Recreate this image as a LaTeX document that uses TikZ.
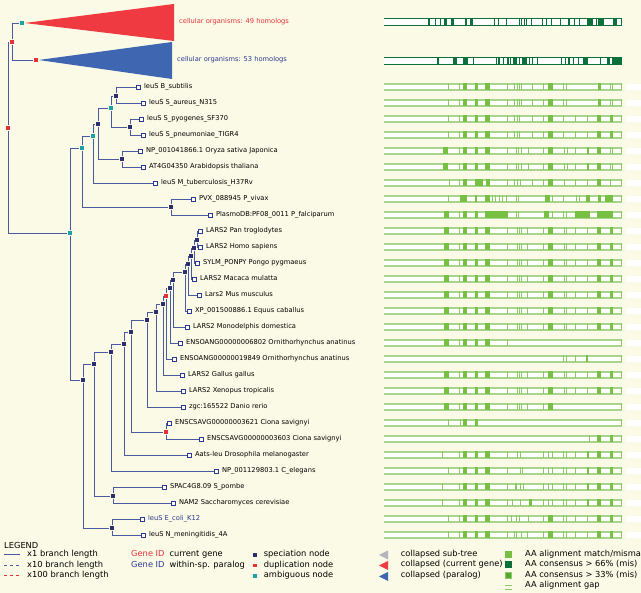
\documentclass[tikz,border=0pt]{standalone}
\usepackage{fontspec}
\setmainfont{DejaVu Sans}
\usetikzlibrary{positioning}
\definecolor{Paper}{HTML}{FAFAE6}
\definecolor{Branch}{HTML}{4A5AA0}
\definecolor{Navy}{HTML}{2B2F70}
\definecolor{DupRed}{HTML}{E8303A}
\definecolor{AmbTeal}{HTML}{1AA3A6}
\definecolor{ColRed}{HTML}{EE3A40}
\definecolor{ColBlue}{HTML}{3F66B0}
\definecolor{ParaBlue}{HTML}{2B3990}
\definecolor{SubGray}{HTML}{B5B5BD}
\definecolor{AAGreen}{HTML}{78C043}
\definecolor{AAThin}{HTML}{8EC86A}
\definecolor{AALine}{HTML}{A9D48E}
\definecolor{AADark}{HTML}{0B7039}
\definecolor{AAMid}{HTML}{56AA32}

\newcommand\treefont{\fontsize{6.7}{8}\selectfont}
\newcommand\legfont{\fontsize{8.3}{10}\selectfont}

% one alignment row: y, filled blocks, thin marks
\newcommand\alnrow[3]{%
  \edef\alnfills{#2}\edef\alnthins{#3}%
  \fill[white] (384,#1-3.5) rectangle (621.5,#1+3.5);
  \draw[AALine,line width=1.1pt] (384,#1-3) -- (621.5,#1-3) (384,#1+3) -- (621.5,#1+3);
  \foreach \fa/\fb in \alnfills {\fill[AAGreen] (\fa,#1-3.5) rectangle (\fb,#1+3.5);}
  \foreach \tx in \alnthins {\fill[AAThin] (\tx-0.5,#1-3.5) rectangle (\tx+0.5,#1+3.5);}
  \fill[AAThin] (620.8,#1-3.5) rectangle (621.8,#1+3.5);
  \fill[white] (626,#1-3) rectangle (641,#1+3);}
% consensus row of a collapsed sub-tree
\newcommand\colrow[3]{%
  \edef\alnfills{#2}\edef\alnthins{#3}%
  \fill[white] (384,#1-4) rectangle (621.5,#1+4);
  \draw[AADark,line width=1pt] (384,#1-3.5) -- (621.5,#1-3.5) (384,#1+3.5) -- (621.5,#1+3.5);
  \foreach \fa/\fb in \alnfills {\fill[AADark] (\fa,#1-4) rectangle (\fb,#1+4);}
  \foreach \tx in \alnthins {\fill[AADark] (\tx-0.4,#1-4) rectangle (\tx+0.4,#1+4);}
  \fill[AADark] (620.8,#1-4) rectangle (621.8,#1+4);}

\def\vertfills{444/449,463/467,474.5/478,485/490,548/553,596.5/601,610/613}
\def\vertthins{459.5,507,517,519.5,521.5,527.5,543.5,564,566,575,587}
\def\lowfills{463/467,474.5/478,485/490,586.5/589.3,596.7/600.7,610/612.7}

\begin{document}
\begin{tikzpicture}[x=1pt,y=-1pt,
    branch/.style={Branch,line width=0.8pt},
    spec/.style={rectangle,fill=Navy,minimum size=4.8pt,inner sep=0pt},
    dupl/.style={rectangle,fill=DupRed,minimum size=4.8pt,inner sep=0pt},
    ambi/.style={rectangle,fill=AmbTeal,minimum size=4.8pt,inner sep=0pt},
    leaf/.style={rectangle,draw=ParaBlue,fill=white,line width=0.7pt,minimum size=4pt,inner sep=0pt},
    lbl/.style={font=\treefont,inner sep=0pt,anchor=west,text height=4.9pt,text depth=1.4pt},
    legtxt/.style={font=\legfont,inner sep=0pt,anchor=west,text height=6pt,text depth=1.7pt}]
  \useasboundingbox (0,0) rectangle (641,593);
  \clip (0,0) rectangle (641,593);
  \fill[Paper] (0,0) rectangle (641,593);

  % collapsed sub-trees
  \node[dupl] (root) at (8,128) {};
  \node[dupl] (cdup) at (12,42) {};
  \node[ambi] (ctop) at (22,23) {};
  \node[dupl] (cpar) at (36,60) {};
  \fill[ColRed] (ctop.east) -- (174,4) -- (174,41) -- cycle;
  \fill[ColBlue] (cpar.east) -- (172,42) -- (172,79) -- cycle;
  \node[lbl,text=DupRed] (cg49) at (179,22) {cellular organisms: 49 homologs};
  \node[lbl,text=ParaBlue] (cg53) at (177,60) {cellular organisms: 53 homologs};

  % inner nodes
  \foreach \nm/\st/\nx/\ny in {
      amb0/ambi/70/233, amb1/ambi/82/148, amb2/ambi/93/136, sa/spec/98/124,
      amb3/ambi/111/108, sb/spec/116/96, sc/spec/130/127, sd/spec/122/159,
      se/spec/171/207, s16/spec/83/380, s17/spec/112/528, s15/spec/94/364,
      s18/spec/113/496, s14/spec/111/352, s13/spec/124/344, s12/spec/131/332,
      dcio/dupl/166/432, s11/spec/147/320, s10/spec/156/312, s9/spec/163/304,
      dmam/dupl/166/296, s7/spec/170/288, s6/spec/173/280, s5/spec/185/272,
      s4/spec/188/264, s3/spec/191/256, s2/spec/194/248, s1/spec/197/240}
    \node[\st] (\nm) at (\nx,\ny) {};

  % leaves
  \foreach \nm/\lx/\ly/\txt/\tc in {
      bsub/138/87/{leuS B\_subtilis}/black,
      saur/143/103/{leuS S\_aureus\_N315}/black,
      spyo/141/119/{leuS S\_pyogenes\_SF370}/black,
      spne/143/135/{leuS S\_pneumoniae\_TIGR4}/black,
      osat/140/151/{NP\_001041866.1 Oryza sativa Japonica}/black,
      atha/143/167/{AT4G04350 Arabidopsis thaliana}/black,
      mtub/155/183/{leuS M\_tuberculosis\_H37Rv}/black,
      pviv/193/199/{PVX\_088945 P\_vivax}/black,
      pfal/210/215/{PlasmoDB:PF08\_0011 P\_falciparum}/black,
      ptro/200/231/{LARS2 Pan troglodytes}/black,
      hsap/200/247/{LARS2 Homo sapiens}/black,
      ppyg/197/263/{SYLM\_PONPY Pongo pygmaeus}/black,
      mmul/194/279/{LARS2 Macaca mulatta}/black,
      mmus/199/295/{Lars2 Mus musculus}/black,
      ecab/189/311/{XP\_001500886.1 Equus caballus}/black,
      mdom/187/327/{LARS2 Monodelphis domestica}/black,
      oana/180/343/{ENSOANG00000006802 Ornithorhynchus anatinus}/black,
      oanb/174/359/{ENSOANG00000019849 Ornithorhynchus anatinus}/black,
      ggal/182/375/{LARS2 Gallus gallus}/black,
      xtro/183/391/{LARS2 Xenopus tropicalis}/black,
      drer/183/407/{zgc:165522 Danio rerio}/black,
      csaa/169/423/{ENSCSAVG00000003621 Ciona savignyi}/black,
      csab/201/439/{ENSCSAVG00000003603 Ciona savignyi}/black,
      dmel/189/455/{Aats-leu Drosophila melanogaster}/black,
      cele/216/471/{NP\_001129803.1 C\_elegans}/black,
      spom/164/487/{SPAC4G8.09 S\_pombe}/black,
      scer/173/503/{NAM2 Saccharomyces cerevisiae}/black,
      ecol/142/519/{leuS E\_coli\_K12}/ParaBlue,
      nmen/143/535/{leuS N\_meningitidis\_4A}/black}
    {\node[leaf] (\nm) at (\lx,\ly) {};
     \node[lbl,text=\tc,right=3.5pt of \nm] (\nm-t) {\txt};}

  % branches
  \foreach \p/\c in {root/cdup, root/amb0, cdup/ctop, cdup/cpar,
      amb0/amb1, amb0/s16, amb1/amb2, amb1/se, amb2/sa, amb2/mtub,
      sa/amb3, sa/sd, amb3/sb, amb3/sc, sb/bsub, sb/saur, sc/spyo, sc/spne,
      sd/osat, sd/atha, se/pviv, se/pfal,
      s16/s15, s16/s17, s17/ecol, s17/nmen, s15/s14, s15/s18, s18/spom, s18/scer,
      s14/s13, s14/cele, s13/s12, s13/dmel, s12/s11, s12/dcio, dcio/csaa, dcio/csab,
      s11/s10, s11/drer, s10/s9, s10/xtro, s9/dmam, s9/ggal, dmam/s7, dmam/oanb,
      s7/s6, s7/oana, s6/s5, s6/mdom, s5/s4, s5/ecab, s4/s3, s4/mmus,
      s3/s2, s3/mmul, s2/s1, s2/ppyg, s1/ptro, s1/hsap}
    \draw[branch] (\p) |- (\c);

  % alignments
  \colrow{22.5}{427.7/430.3,444.3/447.3,450.7/454,465/467.3,470/473.3,567.7/570,586.7/593.3,598.3/604,613.3/617.3}{435,440,494.3,498.3,506,519,521.7,524,526.7,531.7,542.3,546.7,551.7,560,574,579,596.7}
  \colrow{61}{436.7/439.3,452.7/457.3,462.7/467.7,498.3/500,506.7/509.3,513.3/516.7,523.3/526.7,568.3/570,583.3/588.3,606.7/610,612.3/621.5}{473.3,496.7,503.3,510.7,519,522.3,529,532,537,561.7,565,573.3,578,600}
  \alnrow{87}{463/467,474.5/478,485/490,548/553,597.5/601}{448.7,459.5,507.7,514,517,519,521,532.7,543.7,563.7,566.7,610,612}
  \alnrow{103}{463/467,474.5/478,485/490,548/553,597.5/601}{448.7,459.5,507.7,514,517,519,521,532.7,543.7,563.7,566.7,610,612}
  \alnrow{119}{463/467,474.5/478,485/490,548/553,597/601,610/612.5}{448.7,459.5,507.7,514,517,519,532.7,543.7,563.7,575,587}
  \alnrow{135}{463/467,474.5/478,485/490,548/553,597/601,610/612.5}{448.7,459.5,507.7,514,517,519,532.7,543.7,563.7,575,587}
  \alnrow{151}{442.5/447.5,463/467,474.5/478,485/490,548/553,586.5/589,597/601}{459.5,507,516,518,521,528,543.5,564,567,575,610,612}
  \alnrow{167}{442.5/447.5,463/467,474.5/478,485/490,548/553,586.5/589,597/601}{459.5,507,516,518,521,528,543.5,564,567,575,610,612}
  \alnrow{183}{463/467,474.5/483,485.5/490,548/553,597/601}{449,459.5,507,514,517,520,532,543.5,564,575,587,610}
  \alnrow{199}{459.5/466.5,474.5/477,485/489.5,544.5/549.5,585.5/589.5,597.5/601,604.5/612.5}{448.5,492,495,499.5,502.5,506.5,516,518.5,552.5,563.5,576,579.5}
  \alnrow{215}{444/449,463/467,474.5/478,485/508,544/549,575/589.5,597/612.5}{459.5,516,518.5,552.5,563.7,566}
  \foreach \ry in {231,247,263,279,295,311,327,375,391}
    {\alnrow{\ry}{\vertfills}{\vertthins}}
  \alnrow{343}{444/449,463/467,474.5/478,485/490}{459.5,507}
  \alnrow{359}{586.3/587.5}{563.5,566,575}
  \alnrow{407}{444/449,463/467,474.5/478,485/490,548/553}{459.5,507,517,519.5,521.5,527.5,543.5}
  \alnrow{423}{463/467,474.5/478}{448,460}
  \alnrow{439}{597/601,610/613}{589}
  \alnrow{455}{\lowfills}{442.7,459.5,507,517,520.5,543.3,548.5,552,563.3,566,575}
  \alnrow{471}{\lowfills}{448,459.5,507,520,522,543.3,548.3,552,563.3,566,575}
  \alnrow{487}{\lowfills}{442.7,459.5,507,515,516.7,520,523.3,543.3,548.3,552.7,563.3,566,575}
  \alnrow{503}{\lowfills,529.3/531.7}{442.7,459.5,507,512.3,520,543.3,548.3,552.7,563.3,566,575}
  \alnrow{519}{463/467,474.5/478,485/490,548/553,597/601,610/613}{448.7,459.5,507.7,511,516,519.3,528.7,543.3,563.7,566.7,575,587}
  \alnrow{535}{463/467,474.5/478,485/490,548/553,597/601,610/613}{448.7,459.5,507.7,514,516.7,521,527.7,543.3,563.7,566.7,575,587}

  % legend
  \node[legtxt] (leg) at (4,546) {LEGEND};
  \draw[branch] (4,554.5) -- (20,554.5);
  \draw[branch,dash pattern=on 3pt off 3pt] (4,565) -- (20,565);
  \draw[DupRed,line width=0.8pt,dash pattern=on 3pt off 3pt] (4,575) -- (20,575);
  \foreach \ly/\txt in {554.5/x1 branch length,565/x10 branch length,575/x100 branch length}
    \node[legtxt] at (27,\ly) {\txt};
  \node[legtxt,text=DupRed] (gidr) at (131,554.5) {Gene ID};
  \node[legtxt] (gidrt) at (169.3,554.5) {current gene};
  \node[legtxt,text=ParaBlue] (gidb) at (131,565) {Gene ID};
  \node[legtxt] (gidbt) at (169.3,565) {within-sp. paralog};
  \foreach \st/\ly/\txt in {spec/555/speciation node,dupl/565.5/duplication node,ambi/576/ambiguous node}
    {\node[\st,minimum size=3.5pt] (k\st) at (255,\ly) {};
     \node[legtxt] (k\st-t) at (263.7,\ly-0.5) {\txt};}
  \fill[SubGray] (379,555) -- (388,550.5) -- (388,559.5) -- cycle;
  \fill[ColRed] (379,565.5) -- (388,561) -- (388,570) -- cycle;
  \fill[ColBlue] (379,576.5) -- (388,572) -- (388,581) -- cycle;
  \foreach \ly/\txt in {554.5/collapsed sub-tree,564.8/collapsed (current gene),575/collapsed (paralog)}
    \node[legtxt] at (400.7,\ly) {\txt};
  \fill[AAGreen] (505,551) rectangle (512,558);
  \fill[AADark] (505,561.5) rectangle (512,568.5);
  \filldraw[fill=AAMid,draw=AAThin,line width=0.8pt] (505.4,572.4) rectangle (511.6,578.6);
  \draw[AAThin,line width=0.8pt] (505,585.5) -- (512,585.5) (505,589.5) -- (512,589.5);
  \foreach \ly/\txt in {554.5/{AA alignment match/mismatch},564.8/{AA consensus > 66\% (mis)},575/{AA consensus > 33\% (mis)},585.5/{AA alignment gap}}
    \node[legtxt] at (525,\ly) {\txt};
\end{tikzpicture}
\end{document}
